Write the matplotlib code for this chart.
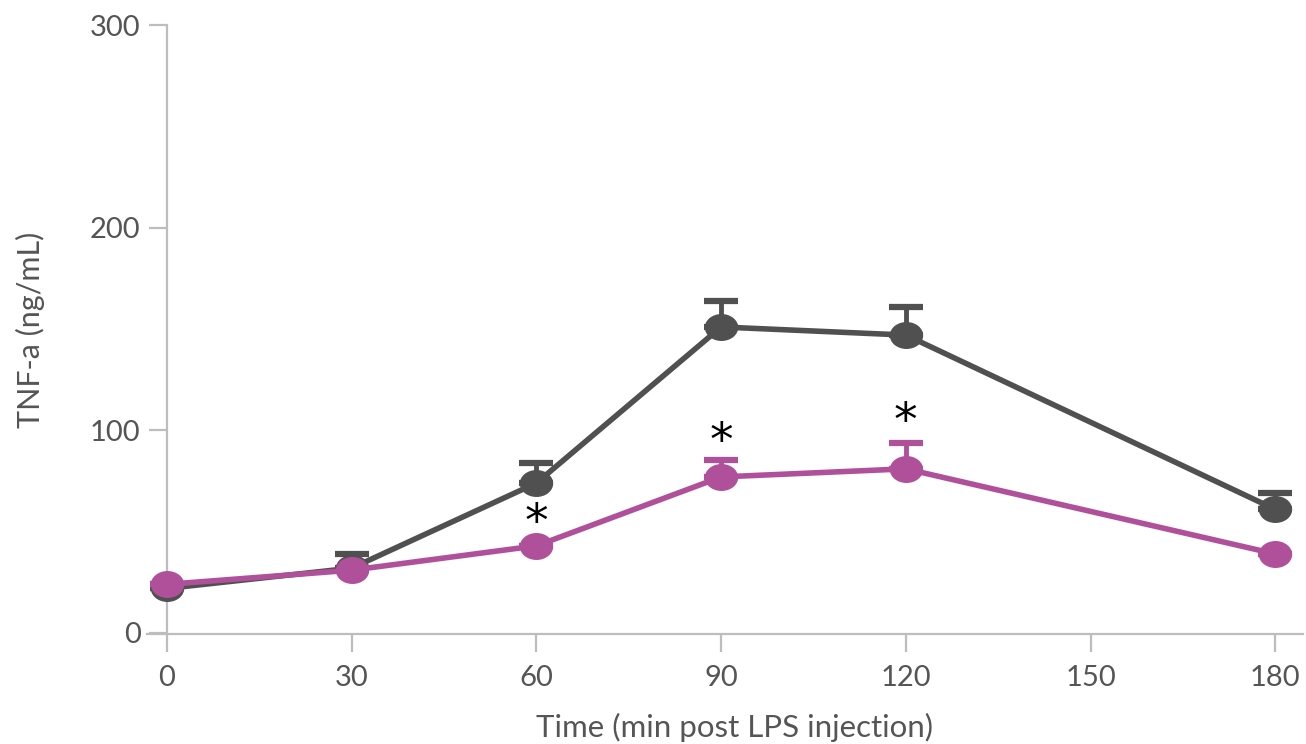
import matplotlib.pyplot as plt
import numpy as np
from matplotlib.path import Path
from matplotlib.transforms import Affine2D

# TNF-a in plasma after LPS injection, mean + upper SEM
time_min = [0, 30, 60, 90, 120, 180]
control = [22, 32, 74, 151, 147, 61]
control_err = [0, 7, 10, 13, 14, 8]
treated = [24, 31, 43, 77, 81, 39]
treated_err = [0, 0, 0, 8.5, 12.5, 0]

# significance stars (x, y)
star_x = [60, 90, 120]
star_y = [54, 94, 104]

x_ticks = [0, 30, 60, 90, 120, 150, 180]
y_ticks = [0, 100, 200, 300]

grey = "#505050"
pink = "#b0509a"
axis_col = "#bdbdbd"
text_col = "#555555"

plt.rcParams['font.family'] = ['Lato', 'DejaVu Sans']

# slightly wide ellipse marker
ellipse = Path.unit_circle().transformed(Affine2D().scale(1.0, 0.8))

fig = plt.figure(figsize=(13.06, 7.44), dpi=100)
ax = fig.add_axes([147 / 1306, 1 - 634 / 744, (1303 - 147) / 1306, (634 - 25) / 744])

for y, err, col in [(control, control_err, grey), (treated, treated_err, pink)]:
    lower = np.zeros(len(err))
    ax.errorbar(time_min, y, yerr=[lower, err], color=col, lw=4.0,
                elinewidth=3.5, capsize=12, capthick=4.5,
                marker=ellipse, markersize=23, zorder=3)

for sx, sy in zip(star_x, star_y):
    ax.text(sx, sy, "*", ha="center", va="center", fontsize=34,
            color="black", family="DejaVu Sans")

ax.set_xlim(-3.25, 184.5)
ax.set_ylim(-0.5, 300)
ax.set_xticks(x_ticks)
ax.set_yticks(y_ticks)

for side in ["top", "right"]:
    ax.spines[side].set_visible(False)
ax.spines["left"].set_position(("data", 0))
for side in ["left", "bottom"]:
    ax.spines[side].set_color(axis_col)
    ax.spines[side].set_linewidth(1.6)

ax.tick_params(axis="both", colors=axis_col, width=1.6, length=13,
               labelcolor=text_col, labelsize=21)
ax.tick_params(axis="x", pad=9)
ax.tick_params(axis="y", pad=6)

fig.text(734 / 1306, 1 - 727 / 744, "Time (min post LPS injection)",
         ha="center", va="center", fontsize=22.5, color=text_col)
fig.text(30 / 1306, 1 - 330 / 744, "TNF-a (ng/mL)", rotation=90,
         ha="center", va="center", fontsize=22, color=text_col)

fig.savefig("out.png", dpi=100)
